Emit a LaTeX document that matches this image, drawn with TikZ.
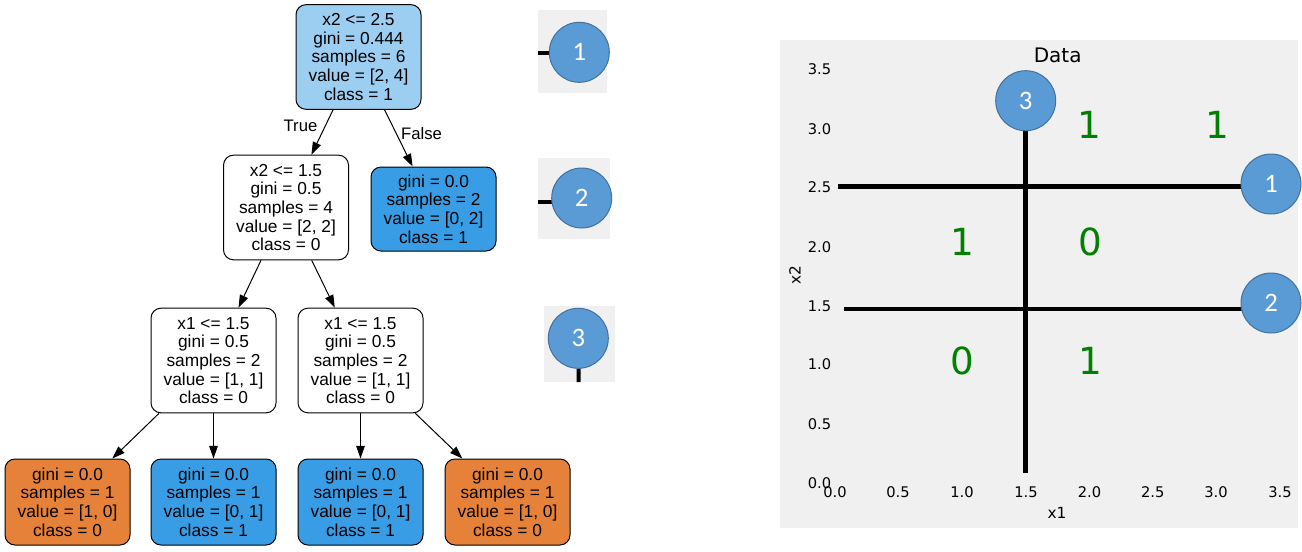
\documentclass[tikz,border=0pt]{standalone}
\usepackage{fontspec}
\setmainfont{Liberation Sans}
\newfontfamily\plotfont{DejaVu Sans}
\newfontfamily\badgefont{Carlito}
\usetikzlibrary{arrows.meta}

\definecolor{leafblue}{HTML}{399DE5}
\definecolor{leaforange}{HTML}{E58139}
\definecolor{rootblue}{HTML}{9CCEF2}
\definecolor{panelgray}{HTML}{F0F0F0}
\definecolor{badgeblue}{HTML}{5B9BD5}
\definecolor{badgeedge}{HTML}{41719C}
\definecolor{regiongreen}{HTML}{008000}

% panels at the bottom, split lines above them, badges and text on top
\pgfdeclarelayer{panels}
\pgfdeclarelayer{splits}
\pgfsetlayers{panels,splits,main}

\begin{document}
\begin{tikzpicture}[x=0.75pt,y=-0.75pt,
  treenode/.style={draw, line width=0.75pt, rounded corners=7.5pt, align=center,
    inner sep=0pt, minimum width=93.75pt, font=\fontsize{13}{14}\selectfont},
  splitnode/.style={treenode, minimum height=78.5pt},
  leafnode/.style={treenode, minimum height=64.5pt},
  edge/.style={line width=0.75pt, -{Triangle[length=9.5pt,width=6.5pt]}},
  edgelabel/.style={font=\fontsize{12.5}{13}\selectfont, inner sep=0pt},
  badge/.style={circle, fill=badgeblue, draw=badgeedge, line width=0.75pt,
    minimum size=45pt, inner sep=0pt, text=white,
    font=\badgefont\fontsize{20}{20}\selectfont},
  splitline/.style={line width=3.4pt},
  keyline/.style={line width=3pt},
  ticklabel/.style={font=\plotfont\fontsize{11}{11}\selectfont, inner sep=0pt},
  axislabel/.style={font=\plotfont\fontsize{11.5}{12}\selectfont, inner sep=0pt},
  regionlabel/.style={font=\plotfont\fontsize{28}{28}\selectfont, text=regiongreen, inner sep=0pt}
]
\useasboundingbox (0,0) rectangle (1302,551);

% ---------------- decision tree ----------------
\node[splitnode, fill=rootblue] (root) at (358.5,57)
  {x2 <= 2.5\\gini = 0.444\\samples = 6\\value = [2, 4]\\class = 1};
\node[splitnode, fill=white] (n1) at (286,207.5)
  {x2 <= 1.5\\gini = 0.5\\samples = 4\\value = [2, 2]\\class = 0};
\node[treenode, minimum height=63pt, fill=leafblue] (n2) at (433.5,209)
  {gini = 0.0\\samples = 2\\value = [0, 2]\\class = 1};
\node[splitnode, fill=white] (n3) at (213.5,360.5)
  {x1 <= 1.5\\gini = 0.5\\samples = 2\\value = [1, 1]\\class = 0};
\node[splitnode, fill=white] (n4) at (360.5,360.5)
  {x1 <= 1.5\\gini = 0.5\\samples = 2\\value = [1, 1]\\class = 0};
\node[leafnode, fill=leaforange] (n5) at (67.5,502)
  {gini = 0.0\\samples = 1\\value = [1, 0]\\class = 0};
\node[leafnode, fill=leafblue] (n6) at (213.5,502)
  {gini = 0.0\\samples = 1\\value = [0, 1]\\class = 1};
\node[leafnode, fill=leafblue] (n7) at (360.5,502)
  {gini = 0.0\\samples = 1\\value = [0, 1]\\class = 1};
\node[leafnode, fill=leaforange] (n8) at (507.5,502)
  {gini = 0.0\\samples = 1\\value = [1, 0]\\class = 0};

\draw[edge] (root) -- (n1);
\draw[edge] (root) -- (n2);
\draw[edge] (n1) -- (n3);
\draw[edge] (n1) -- (n4);
\draw[edge] (n3) -- (n5);
\draw[edge] (n3) -- (n6);
\draw[edge] (n4) -- (n7);
\draw[edge] (n4) -- (n8);

\node[edgelabel] (ltrue) at (300.5,126) {True};
\node[edgelabel] (lfalse) at (421.5,133.5) {False};

% ---------------- split badges ----------------
\begin{pgfonlayer}{panels}
  \fill[panelgray] (538,10) rectangle (607,93);
  \fill[panelgray] (538,158) rectangle (610,239);
  \fill[panelgray] (544,306) rectangle (615,382);
  \fill[panelgray] (780,40) rectangle (1298,528);
\end{pgfonlayer}

\coordinate (k1s) at (538,53.3);
\coordinate (k2s) at (538,201.7);
\coordinate (k3e) at (578.7,382);
\node[badge] (k1) at (579.3,52.3) {1};
\node[badge] (k2) at (581.7,198) {2};
\node[badge] (k3) at (578.3,338.3) {3};
\begin{pgfonlayer}{splits}
  \draw[keyline] (k1s) -- (k1s -| k1.center);
  \draw[keyline] (k2s) -- (k2s -| k2.center);
  \draw[keyline] (k3.center) -- (k3e);
\end{pgfonlayer}

% ---------------- data plot ----------------
\node[font=\plotfont\fontsize{15}{15}\selectfont, inner sep=0pt] (title) at (1057.7,55) {Data};

\foreach \lab/\yy [count=\i] in {3.5/69.3, 3.0/129, 2.5/186.7, 2.0/246.7, 1.5/306, 1.0/364.3, 0.5/424, 0.0/482.7}
  \node[ticklabel, anchor=east] (ytick\i) at (831.5,\yy) {\lab};
\foreach \lab/\xx [count=\i] in {0.0/835, 0.5/898, 1.0/962, 1.5/1026, 2.0/1089.5, 2.5/1152.7, 3.0/1216, 3.5/1280}
  \node[ticklabel] (xtick\i) at (\xx,492.3) {\lab};

\node[axislabel] (xlab) at (1057,512.7) {x1};
\node[axislabel, rotate=90] (ylab) at (795,275) {x2};

\node[regionlabel] (r1) at (1089,125) {1};
\node[regionlabel] (r2) at (1217,125) {1};
\node[regionlabel] (r3) at (962.7,242) {1};
\node[regionlabel] (r4) at (1090,242) {0};
\node[regionlabel] (r5) at (962.7,361) {0};
\node[regionlabel] (r6) at (1090,361) {1};

\coordinate (h1) at (838,186.7);
\coordinate (h2) at (844,309);
\coordinate (v0) at (1025.7,472.7);
\node[badge] (c1) at (1271,184) {1};
\node[badge] (c2) at (1271,303) {2};
\node[badge] (c3) at (1025.7,100.7) {3};
\begin{pgfonlayer}{splits}
  \draw[splitline] (h1) -- (h1 -| c1.center);
  \draw[splitline] (h2) -- (h2 -| c2.center);
  \draw[splitline] (v0) -- (c3.center);
\end{pgfonlayer}
\end{tikzpicture}
\end{document}
